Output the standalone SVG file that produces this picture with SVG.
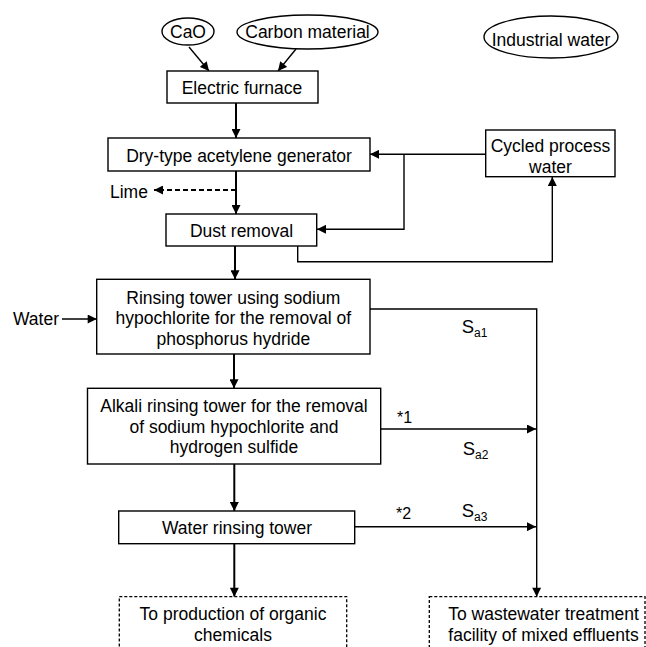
<svg xmlns="http://www.w3.org/2000/svg" width="646" height="647" viewBox="0 0 646 647">
<style>
text{font-family:"Liberation Sans",Arial,sans-serif;font-size:17.5px;fill:#000;text-anchor:middle}
.box{fill:#fff;stroke:#000;stroke-width:1.4}
.dash{fill:#fff;stroke:#000;stroke-width:1.3;stroke-dasharray:3 2}
.ln{fill:none;stroke:#000;stroke-width:1.4}
.th{fill:none;stroke:#000;stroke-width:2}
.s{font-size:18.5px;text-anchor:start}
.sub{font-size:12px}
.st{font-size:16px;text-anchor:start}
</style>
<defs>
<marker id="ah" viewBox="0 0 10 10" refX="10" refY="5" markerWidth="10" markerHeight="9" markerUnits="userSpaceOnUse" orient="auto">
<path d="M0,0 L10,5 L0,10 Z" fill="#000"/>
</marker>
</defs>
<rect width="646" height="647" fill="#fff"/>

<g id="connectors">
<line class="ln" x1="189" y1="47" x2="209" y2="71" marker-end="url(#ah)"/>
<line class="ln" x1="296" y1="49" x2="278" y2="71" marker-end="url(#ah)"/>
<line class="th" x1="236" y1="103" x2="236" y2="138" marker-end="url(#ah)"/>
<line class="th" x1="236" y1="171" x2="236" y2="214" marker-end="url(#ah)"/>
<line fill="none" stroke="#000" stroke-width="2" stroke-dasharray="5 3" x1="236" y1="190" x2="154" y2="190" marker-end="url(#ah)"/>
<line class="ln" x1="486" y1="154.3" x2="370" y2="154.3" marker-end="url(#ah)"/>
<polyline class="ln" points="404,154.3 404,229.3 317,229.3" marker-end="url(#ah)"/>
<polyline class="ln" points="297.7,246 297.7,261.7 552.3,261.7 552.3,177" marker-end="url(#ah)"/>
<line class="th" x1="235" y1="246" x2="235" y2="279.3" marker-end="url(#ah)"/>
<line class="ln" x1="62" y1="319" x2="96.7" y2="319" marker-end="url(#ah)"/>
<polyline class="ln" points="370,309 536.7,309 536.7,596.7" marker-end="url(#ah)"/>
<line class="th" x1="234" y1="354" x2="234" y2="388.3" marker-end="url(#ah)"/>
<line class="ln" x1="380.7" y1="429" x2="536" y2="429" marker-end="url(#ah)"/>
<line class="th" x1="234.3" y1="464" x2="234.3" y2="511" marker-end="url(#ah)"/>
<line class="ln" x1="354.7" y1="526.7" x2="536" y2="526.7" marker-end="url(#ah)"/>
<line class="th" x1="234.3" y1="543.7" x2="234.3" y2="596.7" marker-end="url(#ah)"/>
</g>

<g id="cao">
<ellipse class="box" cx="188" cy="31.5" rx="26" ry="13.5"/>
<text x="188" y="38">CaO</text>
</g>
<g id="carbon">
<ellipse class="box" cx="307.5" cy="32" rx="70.5" ry="17"/>
<text x="307.5" y="38">Carbon material</text>
</g>
<g id="industrial-water">
<ellipse class="box" cx="551" cy="37" rx="67" ry="21"/>
<text x="551" y="45.5">Industrial water</text>
</g>
<g id="furnace">
<rect class="box" x="167" y="71" width="151" height="32"/>
<text x="242" y="94">Electric furnace</text>
</g>
<g id="generator">
<rect class="box" x="108" y="138" width="262" height="33"/>
<text x="239" y="161.5">Dry-type acetylene generator</text>
</g>
<g id="cycled">
<rect class="box" x="485.7" y="130" width="129.3" height="46.7"/>
<text x="550.5" y="152">Cycled process</text>
<text x="550.5" y="172.5">water</text>
</g>
<g id="lime">
<text x="110" y="198" style="text-anchor:start">Lime</text>
</g>
<g id="dust">
<rect class="box" x="166" y="214" width="150.7" height="32"/>
<text x="241.5" y="236.5">Dust removal</text>
</g>
<g id="water-in">
<text x="13" y="325" style="text-anchor:start">Water</text>
</g>
<g id="rinsing">
<rect class="box" x="96.7" y="279.3" width="273.3" height="74.7"/>
<text x="233.3" y="303.5">Rinsing tower using sodium</text>
<text x="233.3" y="324.3">hypochlorite for the removal of</text>
<text x="233.3" y="344.5">phosphorus hydride</text>
</g>
<g id="alkali">
<rect class="box" x="87.5" y="388.3" width="293.2" height="75.7"/>
<text x="234" y="411.7">Alkali rinsing tower for the removal</text>
<text x="234" y="432.7">of sodium hypochlorite and</text>
<text x="234" y="453.3">hydrogen sulfide</text>
</g>
<g id="water-rinsing">
<rect class="box" x="118.7" y="511" width="236" height="32.7"/>
<text x="237" y="534">Water rinsing tower</text>
</g>
<g id="production">
<rect class="dash" x="119.3" y="596.7" width="227.4" height="70"/>
<text x="233" y="620">To production of organic</text>
<text x="233" y="640.5">chemicals</text>
</g>
<g id="wastewater">
<rect class="dash" x="429.3" y="596.7" width="215.7" height="70"/>
<text x="543.5" y="620">To wastewater treatment</text>
<text x="543.5" y="640.5">facility of mixed effluents</text>
</g>
<g id="labels">
<text class="s" x="461.7" y="333.3">S<tspan class="sub" dy="3.4">a1</tspan></text>
<text class="s" x="462.7" y="455">S<tspan class="sub" dy="4.3">a2</tspan></text>
<text class="s" x="461.7" y="516.7">S<tspan class="sub" dy="4.3">a3</tspan></text>
<text class="st" x="397" y="423.3">*1</text>
<text class="st" x="396" y="519">*2</text>
</g>
</svg>
